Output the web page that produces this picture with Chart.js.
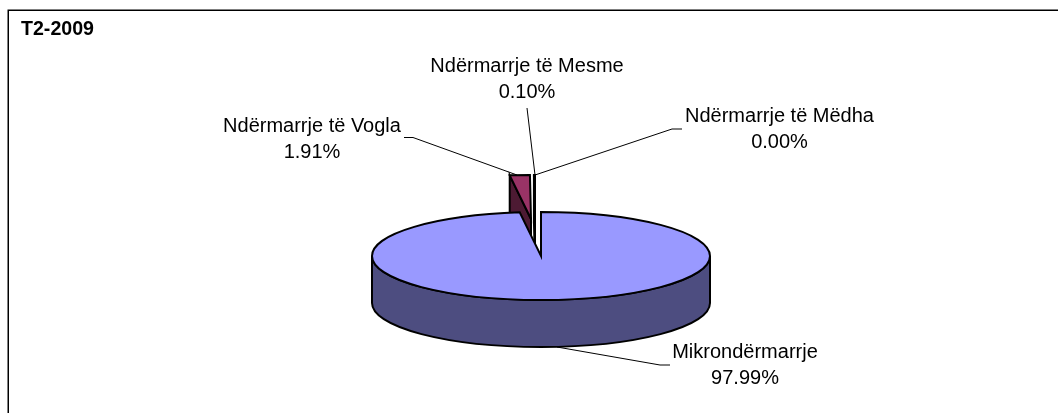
<!DOCTYPE html>
<html>
<head>
<meta charset="utf-8">
<style>html,body{margin:0;padding:0;background:#fff}canvas{display:block}</style>
<script src="https://cdn.jsdelivr.net/npm/chart.js@4"></script>
</head>
<body>
<canvas id="c" width="1058" height="413"></canvas>
<script>
const categories = ['Mikrondërmarrje', 'Ndërmarrje të Vogla', 'Ndërmarrje të Mesme', 'Ndërmarrje të Mëdha'];
const shares = [97.99, 1.91, 0.10, 0.00];
const topColors = ['#9999FF', '#993366', '#FFFFCC', '#CCFFFF'];
const wallColors = ['#4D4D80', '#4D1A33', '#808066', '#668080'];
const chartTitle = 'T2-2009';

const view = { cx: 541, cy: 256, radius: 169, squash: 44 / 169, depth: 47, edge: 2 };
const explode = [[0, 0], [-10, -37], [-6, -37], [-6, -37]];
const labelStyle = [
  { x: 745, y: 351, leader: [[670, 365], [660, 365], [557, 347]] },
  { x: 312, y: 125, leader: [[404, 137.5], [413, 137.5], [517, 175]] },
  { x: 527, y: 65.5,  leader: [[527, 108], [535, 175]] },
  { x: 779.5, y: 115.5, leader: [[682, 129], [672, 129], [535, 175]] }
];

const pie3d = {
  id: 'pie3d',
  beforeDraw(chart) {
    const ctx = chart.ctx;
    ctx.save();
    ctx.strokeStyle = '#000';
    ctx.lineWidth = 1.5;
    ctx.beginPath();
    ctx.moveTo(8.25, chart.height);
    ctx.lineTo(8.25, 10.25);
    ctx.lineTo(chart.width, 10.25);
    ctx.stroke();
    ctx.restore();
  },
  beforeDatasetsDraw(chart) {
    const ctx = chart.ctx;
    const arcs = chart.getDatasetMeta(0).data;
    const v = view;
    const ry = r => r * v.squash;

    const drawSlice = (i) => {
      const arc = arcs[i];
      const ox = v.cx + explode[i][0], oy = v.cy + explode[i][1];
      const R = arc.outerRadius, a0 = arc.startAngle, a1 = arc.endAngle;
      ctx.save();
      ctx.lineWidth = v.edge;
      ctx.strokeStyle = '#000';
      ctx.lineJoin = 'miter';

      // side walls
      ctx.fillStyle = wallColors[i];
      ctx.beginPath();
      if (i === 0) {
        ctx.ellipse(ox, oy, R, ry(R), 0, 0, Math.PI, false);
        ctx.ellipse(ox, oy + v.depth, R, ry(R), 0, Math.PI, 0, true);
        ctx.closePath();
      } else {
        ctx.moveTo(ox + R * Math.cos(a0), oy + ry(R) * Math.sin(a0));
        ctx.lineTo(ox, oy);
        ctx.lineTo(ox, oy + v.depth);
        ctx.lineTo(ox + R * Math.cos(a0), oy + v.depth + ry(R) * Math.sin(a0));
        ctx.closePath();
      }
      ctx.fill();
      ctx.stroke();

      // top face: the library's own arc element, squashed into perspective
      ctx.save();
      ctx.translate(ox, oy);
      ctx.scale(1, v.squash);
      ctx.translate(-arc.x, -arc.y);
      arc.draw(ctx);
      ctx.restore();

      ctx.beginPath();
      ctx.moveTo(ox, oy);
      ctx.ellipse(ox, oy, R, ry(R), 0, a0, a1, false);
      ctx.closePath();
      ctx.stroke();
      ctx.restore();
    };

    [3, 2, 1, 0].forEach(drawSlice);

    // labels and leader lines
    ctx.save();
    ctx.font = '20px "Liberation Sans", Arial, sans-serif';
    ctx.textAlign = 'center';
    ctx.textBaseline = 'middle';
    categories.forEach((name, i) => {
      const s = labelStyle[i];
      ctx.fillStyle = '#000';
      ctx.fillText(name, s.x, s.y + 1);
      ctx.fillText(shares[i].toFixed(2) + '%', s.x, s.y + 27);
      ctx.strokeStyle = '#000';
      ctx.lineWidth = 1;
      ctx.beginPath();
      s.leader.forEach((p, k) => k ? ctx.lineTo(p[0], p[1]) : ctx.moveTo(p[0], p[1]));
      ctx.stroke();
    });
    ctx.restore();
    return false;
  }
};

new Chart(document.getElementById('c'), {
  type: 'pie',
  plugins: [pie3d],
  data: {
    labels: categories,
    datasets: [{ data: shares, backgroundColor: topColors, borderWidth: 0 }]
  },
  options: {
    responsive: false,
    animation: false,
    radius: view.radius,
    layout: { padding: { left: 21 } },
    plugins: {
      legend: { display: false },
      tooltip: { enabled: false },
      title: {
        display: true,
        text: chartTitle,
        align: 'start',
        color: '#000',
        padding: { top: 18, bottom: 0 },
        font: { family: '"Liberation Sans", Arial, sans-serif', size: 19.6, weight: 'bold' }
      }
    }
  }
});
</script>
</body>
</html>
